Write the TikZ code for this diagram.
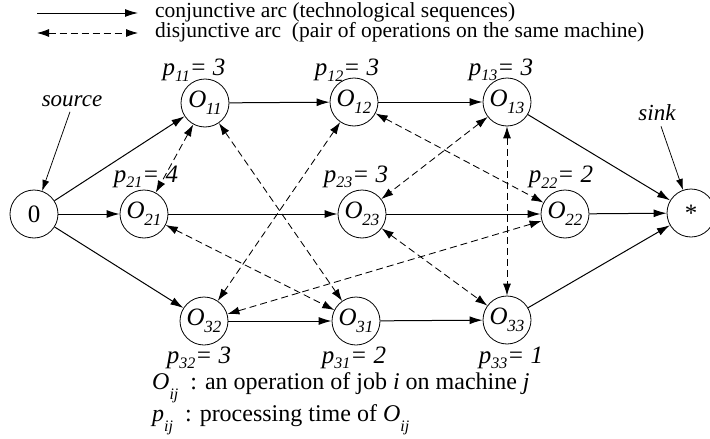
\documentclass[tikz,border=0pt]{standalone}
\usepackage{fontspec}
\setmainfont{Liberation Serif}[ItalicFont={Liberation Serif Italic},BoldFont={Liberation Serif Bold}]
\usetikzlibrary{arrows.meta}
\newcommand\Osub[1]{\textit{O}\kern-0.5pt\raisebox{-0.28em}{\fontsize{17}{17}\selectfont\textit{#1}}}
\newcommand\plab[2]{\textit{p}\raisebox{-0.22em}{\fontsize{16}{16}\selectfont\textit{#1}}\textit{= #2}}
\newcommand\Lsub[2]{\textit{#1}\raisebox{-0.4em}{\fontsize{16}{16}\selectfont\textit{#2}}}
\begin{document}
\begin{tikzpicture}[x=1pt,y=-1pt,
  op/.style={circle, draw, minimum size=48pt, inner sep=0pt, line width=0.8pt,
    font=\fontsize{25}{25}\selectfont},
  conj/.style={-{Latex[length=13pt,width=8pt]}, line width=1pt},
  disj/.style={{Latex[length=12pt,width=8pt]}-{Latex[length=12pt,width=8pt]},
    line width=0.85pt, dash pattern=on 7pt off 4pt},
  pointer/.style={-{Latex[length=11pt,width=7pt]}, line width=0.75pt},
  lab/.style={font=\fontsize{25}{25}\selectfont, inner sep=0pt},
  note/.style={font=\fontsize{23}{23}\selectfont\itshape, inner sep=0pt},
  legend/.style={font=\fontsize{21.5}{21.5}\selectfont, inner sep=0pt, anchor=west},
  blegend/.style={font=\fontsize{24}{24}\selectfont, inner sep=0pt, anchor=west}]
\useasboundingbox (0,0) rectangle (710,439);

% legend top
\coordinate (l1a) at (37,13);
\coordinate (l1b) at (138,13);
\coordinate (l2a) at (37,33);
\coordinate (l2b) at (138,33);
\draw[conj] (l1a) -- (l1b);
\draw[disj] (l2a) -- (l2b);
\node[legend] (t1) at (155,12) {conjunctive arc (technological sequences)};
\node[legend] (t2) at (155,32) {disjunctive arc\ \ (pair of operations on the same machine)};

% nodes
\node[op] (src) at (34,214) {0};
\node[op] (o11) at (205,103) {\Osub{11}};
\node[op] (o12) at (354,102) {\Osub{12}};
\node[op] (o13) at (507,102) {\Osub{13}};
\node[op] (o21) at (144,214) {\Osub{21}};
\node[op] (o23) at (362,214) {\Osub{23}};
\node[op] (o22) at (565,214) {\Osub{22}};
\node[op] (snk) at (691,213) {*};
\node[op] (o32) at (204,321) {\Osub{32}};
\node[op] (o31) at (356,321) {\Osub{31}};
\node[op] (o33) at (507,320) {\Osub{33}};

% processing time labels
\node[lab] (p11) at (194,70) {\plab{11}{3}};
\node[lab] (p12) at (347,70) {\plab{12}{3}};
\node[lab] (p13) at (501,70) {\plab{13}{3}};
\node[lab] (p21) at (146,177) {\plab{21}{4}};
\node[lab] (p23) at (356,177) {\plab{23}{3}};
\node[lab] (p22) at (561,177) {\plab{22}{2}};
\node[lab] (p32) at (199,358) {\plab{32}{3}};
\node[lab] (p31) at (354,358) {\plab{31}{2}};
\node[lab] (p33) at (511,358) {\plab{33}{1}};

% source / sink
\node[note] (srct) at (72,101) {source};
\node[note] (snkt) at (657,113) {sink};
\draw[pointer] (srct.south) ++(-2,5) coordinate (sp) -- (src);
\draw[pointer] (snkt.south) ++(4,5) coordinate (kp) -- (snk);

% conjunctive arcs
\draw[conj] (src) -- (o11);
\draw[conj] (src) -- (o21);
\draw[conj] (src) -- (o32);
\draw[conj] (o11) -- (o12);
\draw[conj] (o12) -- (o13);
\draw[conj] (o13) -- (snk);
\draw[conj] (o21) -- (o23);
\draw[conj] (o23) -- (o22);
\draw[conj] (o22) -- (snk);
\draw[conj] (o32) -- (o31);
\draw[conj] (o31) -- (o33);
\draw[conj] (o33) -- (snk);

% disjunctive arcs
\draw[disj] (o11) -- (o21);
\draw[disj] (o11) -- (o31);
\draw[disj] (o21) -- (o31);
\draw[disj] (o12) -- (o22);
\draw[disj] (o12) -- (o32);
\draw[disj] (o22) -- (o32);
\draw[disj] (o13) -- (o23);
\draw[disj] (o13) -- (o33);
\draw[disj] (o23) -- (o33);

% bottom legend
\node[blegend] (b1) at (152,388) {\Lsub{O}{ij}\ \ : an operation of job \textit{i} on machine \textit{j}};
\node[blegend] (b2) at (152,420) {\Lsub{p}{ij}\ \ : processing time of \Lsub{O}{ij}};
\end{tikzpicture}
\end{document}
